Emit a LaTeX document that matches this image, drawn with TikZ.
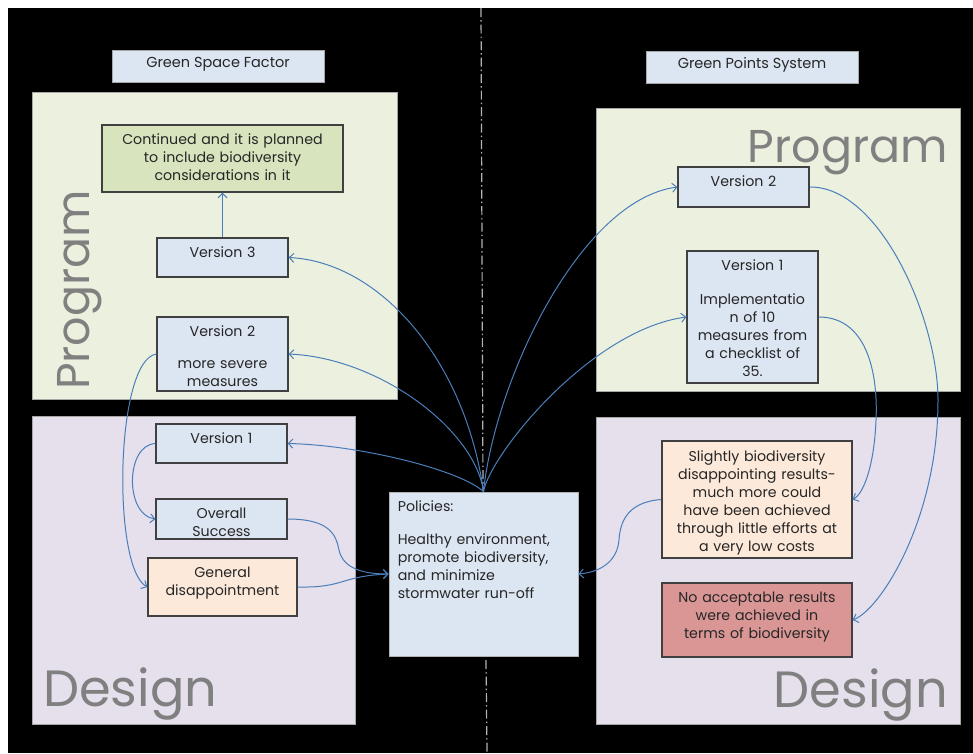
\documentclass[tikz,border=0pt]{standalone}
\usepackage{fontspec}
\setmainfont{Poppins}
\usetikzlibrary{arrows.meta}
\definecolor{pgreen}{HTML}{EBF1DE}
\definecolor{plav}{HTML}{E5E0EC}
\definecolor{bblue}{HTML}{DCE6F2}
\definecolor{bolive}{HTML}{D7E4BD}
\definecolor{bpeach}{HTML}{FDE9D9}
\definecolor{brose}{HTML}{D99694}
\definecolor{arr}{HTML}{4A7EBB}
\definecolor{txtc}{HTML}{262626}
\newcommand{\fsz}{\fontsize{14.2}{18}\selectfont}
\begin{document}
\begin{tikzpicture}[x=1pt,y=-1pt,
  panel/.style={draw=gray!70, line width=0.8pt, anchor=north west, inner sep=0pt},
  bx/.style={draw=black!75, line width=1.2pt, inner sep=0pt},
  tbox/.style={draw=gray!70, line width=0.8pt, fill=bblue, inner sep=0pt},
  tx/.style={anchor=base, text width=#1, align=center, inner sep=0pt, font=\fsz, text=txtc},
  big/.style={inner sep=0pt, font=\fontsize{46}{56}\selectfont, text=gray},
  bigd/.style={inner sep=0pt, font=\fontsize{51}{60}\selectfont, text=gray},
  ttl/.style={anchor=base, inner sep=0pt, font=\fontsize{14.5}{16}\selectfont, text=txtc},
  con/.style={draw=arr, line width=1pt, -{Straight Barb[length=4.5pt,width=9pt,line width=1pt]}}
]
\path[use as bounding box, fill=white] (0,0) rectangle (973,753);
\fill[black] (8,8) rectangle (973,753);
% center dash-dot line
\draw[gray!60, line width=1.2pt, dash pattern=on 9pt off 3pt on 1.5pt off 3pt] (481,8) -- (483,490);
\draw[gray!60, line width=1.2pt, dash pattern=on 9pt off 3pt on 1.5pt off 3pt] (486,660) -- (487,753);
% panels
\node[panel, fill=pgreen, minimum width=365, minimum height=307] (lprog) at (32,92) {};
\node[panel, fill=plav, minimum width=323, minimum height=308] (ldes) at (32,416) {};
\node[panel, fill=pgreen, minimum width=364, minimum height=283] (rprog) at (596,108) {};
\node[panel, fill=plav, minimum width=364, minimum height=307] (rdes) at (596,417) {};
% big labels
\node[big, rotate=90, anchor=base west] (lprogt) at (89,390) {Program};
\node[bigd, anchor=base west] (ldest) at (43,706) {Design};
\node[big, anchor=base east] (rprogt) at (948,162) {Program};
\node[bigd, anchor=base east] (rdest) at (948,707) {Design};
% titles
\node[tbox, minimum width=212, minimum height=32] (gsf) at (218,66) {};
\node[ttl] at ([yshift=-18pt]gsf.north) {Green Space Factor};
\node[tbox, minimum width=212, minimum height=32] (gps) at (752,67) {};
\node[ttl] at ([yshift=-18pt]gps.north) {Green Points System};
% left boxes
\node[bx, fill=bolive, minimum width=241, minimum height=67] (cont) at (222.5,158.5) {};
\node[tx=235pt] at ([yshift=-20pt]cont.north) {Continued and it is planned\\to include biodiversity\\considerations in it};
\node[bx, fill=bblue, minimum width=131, minimum height=39] (lv3) at (222.5,257.5) {};
\node[tx=125pt] at ([yshift=-20pt]lv3.north) {Version 3};
\node[bx, fill=bblue, minimum width=131, minimum height=74] (lv2) at (222.5,354) {};
\node[tx=125pt] at ([yshift=-20pt]lv2.north) {Version 2\\[14pt]more severe\\measures};
\node[bx, fill=bblue, minimum width=131, minimum height=39] (lv1) at (221.5,443.5) {};
\node[tx=125pt] at ([yshift=-20pt]lv1.north) {Version 1};
\node[bx, fill=bblue, minimum width=131, minimum height=40] (os) at (221.5,519) {};
\node[tx=125pt] at ([yshift=-20pt]os.north) {Overall\\Success};
\node[bx, fill=bpeach, minimum width=149, minimum height=58] (gd) at (222.5,587) {};
\node[tx=145pt] at ([yshift=-20pt]gd.north) {General\\disappointment};
% policies
\node[draw=gray!60, line width=0.8pt, fill=bblue, inner sep=0pt, minimum width=189, minimum height=164] (pol) at (483.5,574) {};
\node[anchor=base west, text width=180pt, align=left, inner sep=0pt, font=\fsz, text=txtc] at ([xshift=9pt,yshift=-20pt]pol.north west) {Policies:\\[15pt]Healthy environment,\\promote biodiversity,\\and minimize\\stormwater run-off};
% right boxes
\node[bx, fill=bblue, minimum width=131, minimum height=40] (rv2) at (743.5,187) {};
\node[tx=125pt] at ([yshift=-20pt]rv2.north) {Version 2};
\node[bx, fill=bblue, minimum width=131, minimum height=132] (rv1) at (752.5,317) {};
\node[tx=128pt] at ([yshift=-20pt]rv1.north) {Version 1\\[16pt]Implementatio\\n of 10\\measures from\\a checklist of\\35.};
\node[bx, fill=bpeach, minimum width=190, minimum height=117] (sl) at (757,499.5) {};
\node[tx=186pt] at ([yshift=-21pt]sl.north) {Slightly biodiversity\\disappointing results-\\much more could\\have been achieved\\through little efforts at\\a very low costs};
\node[bx, fill=brose, minimum width=190, minimum height=74] (na) at (757,620) {};
\node[tx=186pt] at ([yshift=-20pt]na.north) {No acceptable results\\were achieved in\\terms of biodiversity};
% connectors
\draw[con] (lv3.north) -- (cont.south);
\draw[con] (pol.north) .. controls (465,360) and (380,262) .. (lv3.east);
\draw[con] (pol.north) .. controls (475,430) and (380,358) .. (lv2.east);
\draw[con] (pol.north) .. controls (460,470) and (360,445) .. (lv1.east);
\draw[con] (pol.north) .. controls (495,380) and (580,200) .. (rv2.west);
\draw[con] (pol.north) .. controls (490,455) and (590,330) .. (rv1.west);
\draw[con] (lv2.west) .. controls (115,360) and (112,568) .. (gd.west);
\draw[con] (lv1.west) .. controls (125,445) and (125,515) .. (os.west);
\draw[con] (os.east) .. controls (330,519) and (336,535) .. (339,550) .. controls (343,568) and (362,574) .. (pol.west);
\draw[con] (gd.east) .. controls (345,588) and (340,576) .. (pol.west);
\draw[con] (sl.west) .. controls (625,502) and (620,525) .. (619,540) .. controls (617,562) and (600,572) .. (pol.east);
\draw[con] (rv1.east) .. controls (870,317) and (878,380) .. (876,420) .. controls (874,470) and (862,495) .. (sl.east);
\draw[con] (rv2.east) .. controls (880,186) and (938,320) .. (938,400) .. controls (938,520) and (880,610) .. (na.east);
\end{tikzpicture}
\end{document}
